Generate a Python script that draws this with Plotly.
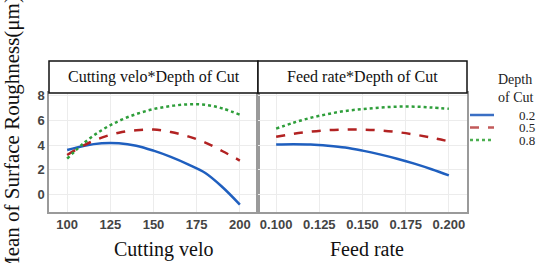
import plotly.graph_objects as go

W, H = 539, 263

velo = [100, 110, 120, 130, 140, 150, 160, 170, 180, 190, 200]
velo_d02 = [3.6, 3.95, 4.15, 4.15, 3.95, 3.55, 3.05, 2.45, 1.75, 0.6, -0.8]
velo_d05 = [3.2, 4.0, 4.6, 5.0, 5.2, 5.25, 5.05, 4.7, 4.2, 3.5, 2.75]
velo_d08 = [2.9, 4.2, 5.2, 5.95, 6.5, 6.9, 7.15, 7.28, 7.25, 6.95, 6.45]

feed = [0.100, 0.110, 0.120, 0.130, 0.140, 0.150, 0.160, 0.170, 0.180, 0.190, 0.200]
feed_d02 = [4.05, 4.07, 4.05, 3.95, 3.8, 3.55, 3.25, 2.9, 2.5, 2.05, 1.55]
feed_d05 = [4.67, 4.9, 5.08, 5.2, 5.25, 5.25, 5.18, 5.05, 4.85, 4.6, 4.3]
feed_d08 = [5.33, 5.8, 6.2, 6.5, 6.75, 6.9, 7.02, 7.1, 7.1, 7.03, 6.93]

depth_labels = ["0.2", "0.5", "0.8"]
panel_titles = ["Cutting velo*Depth of Cut", "Feed rate*Depth of Cut"]
x_titles = ["Cutting velo", "Feed rate"]
y_title = "Mean of Surface Roughness(μm)"
legend_title = "Depth<br>of Cut"
velo_ticks = [100, 125, 150, 175, 200]
feed_ticks = [0.100, 0.125, 0.150, 0.175, 0.200]
y_ticks = [0, 2, 4, 6, 8]

colors = ["#1f5fbf", "#b22222", "#2e9e3a"]
legend_colors = ["#3a6fc4", "#c25a5a", "#4caf50"]
dashes = ["solid", "dash", "dot"]

def px(x):
    return x / W

def py(y):
    return 1 - y / H

fig = go.Figure()
for i, ys in enumerate([velo_d02, velo_d05, velo_d08]):
    fig.add_trace(go.Scatter(x=velo, y=ys, mode="lines", name=depth_labels[i], showlegend=False,
                             line=dict(color=colors[i], dash=dashes[i], width=2.5, shape="spline"),
                             xaxis="x", yaxis="y"))
for i, ys in enumerate([feed_d02, feed_d05, feed_d08]):
    fig.add_trace(go.Scatter(x=feed, y=ys, mode="lines", name=depth_labels[i], showlegend=False,
                             line=dict(color=colors[i], dash=dashes[i], width=2.5, shape="spline"),
                             xaxis="x2", yaxis="y2"))

tickfont = dict(family="Liberation Sans", size=13, color="#444444", weight="bold")
axcommon = dict(showgrid=True, gridcolor="#ececec", gridwidth=1, zeroline=False,
                showline=True, linecolor="#9a9a9a", linewidth=1.5, mirror=True,
                ticks="", tickfont=tickfont, automargin=False)

x0, xm, x1 = px(49), px(258), px(467)
yb, yt = py(212), py(93)

fig.update_layout(
    width=W, height=H,
    margin=dict(l=0, r=0, t=0, b=0, autoexpand=False),
    paper_bgcolor="white", plot_bgcolor="white",
    showlegend=False,
    xaxis=dict(domain=[x0, xm], range=[89.5, 210.5], tickvals=velo_ticks,
               ticktext=[str(v) for v in velo_ticks], anchor="y", **axcommon),
    yaxis=dict(domain=[yb, yt], range=[-1.4, 8.2], tickvals=y_ticks, anchor="x", **axcommon),
    xaxis2=dict(domain=[xm, x1], range=[0.0895, 0.2105], tickvals=feed_ticks,
                ticktext=["%.3f" % v for v in feed_ticks], anchor="y2", **axcommon),
    yaxis2=dict(domain=[yb, yt], range=[-1.4, 8.2], tickvals=y_ticks, showticklabels=False,
                anchor="x2", **axcommon),
)

# strip boxes
for (a, b), t in zip([(x0, xm), (xm, x1)], panel_titles):
    fig.add_shape(type="rect", xref="paper", yref="paper", x0=a, x1=b, y0=yt, y1=py(61),
                  line=dict(color="#111111", width=1.5), fillcolor="white", layer="above")
    fig.add_annotation(text=t, xref="paper", yref="paper", x=(a + b) / 2, y=(yt + py(61)) / 2,
                       xanchor="center", yanchor="middle", showarrow=False,
                       font=dict(family="Liberation Serif", size=16, color="#111111"))

# x titles
for xc, t in zip([163, 367], x_titles):
    fig.add_annotation(text=t, xref="paper", yref="paper", x=px(xc), y=py(249),
                       xanchor="center", yanchor="middle", showarrow=False,
                       font=dict(family="Liberation Serif", size=20, color="#111111"))
# y title
fig.add_annotation(text=y_title, xref="paper", yref="paper", x=px(12), y=py(136),
                   xanchor="center", yanchor="middle", textangle=-90, showarrow=False,
                   font=dict(family="Liberation Serif", size=21, color="#111111"))
# legend (manual)
fig.add_annotation(text=legend_title, xref="paper", yref="paper", x=px(496), y=py(70),
                   xanchor="left", yanchor="top", align="left", showarrow=False,
                   font=dict(family="Liberation Serif", size=14, color="#222222"))
for i, lab in enumerate(depth_labels):
    yy = py(115 + 12.5 * i)
    fig.add_shape(type="line", xref="paper", yref="paper", x0=px(470), x1=px(494), y0=yy, y1=yy,
                  line=dict(color=legend_colors[i], dash=dashes[i], width=2.5))
    fig.add_annotation(text=lab, xref="paper", yref="paper", x=px(517), y=yy,
                       xanchor="left", yanchor="middle", showarrow=False,
                       font=dict(family="Liberation Serif", size=13, color="#222222"))

fig.write_html("out.html", config={"displayModeBar": False})
with open("out.html", "r", encoding="utf-8") as f:
    html = f.read()
html = html.replace("<head>", "<head><style>html,body{margin:0;padding:0;overflow:hidden}</style>", 1)
with open("out.html", "w", encoding="utf-8") as f:
    f.write(html)
